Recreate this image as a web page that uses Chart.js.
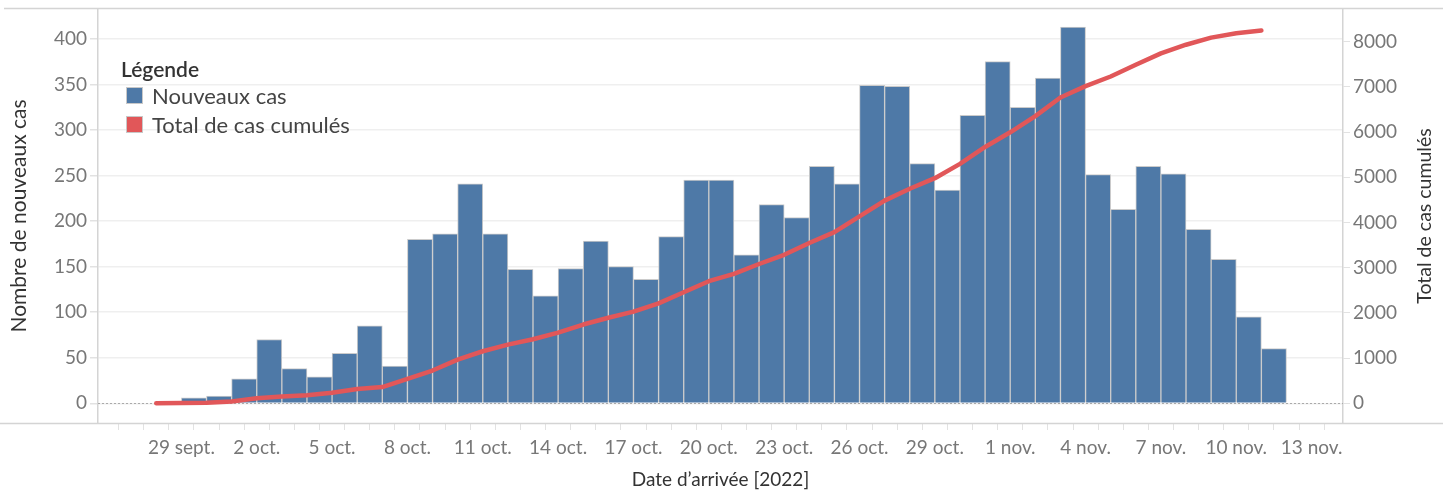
<!DOCTYPE html>
<html lang="fr">
<head>
<meta charset="utf-8">
<script src="https://cdn.jsdelivr.net/npm/chart.js@4.4.0/dist/chart.umd.min.js"></script>
<style>
  html, body { margin: 0; padding: 0; background: #fff; }
  #cadre { position: relative; width: 1443px; height: 491px; }
  #legende { position: absolute; left: 121px; top: 57px; font-family: Lato, "Open Sans", sans-serif; }
  #legende .titre { font-size: 21px; font-weight: 600; color: #333; line-height: 24px; }
  #legende .item { display: flex; align-items: center; height: 29px; font-size: 22px; color: #444; }
  #legende .carre { width: 15px; height: 15px; border: 1px solid #c8c8c8; margin: 0 9px 0 5px; }
</style>
</head>
<body>
<div id="cadre">
  <canvas id="graphique" width="1443" height="491"></canvas>
  <div id="legende"><div class="titre">Légende</div></div>
</div>
<script>
//Données (28 sept. -> 11 nov. 2022)
const dates = [
    "28/09", "29/09", "30/09",
    "01/10", "02/10", "03/10", "04/10", "05/10", "06/10", "07/10", "08/10", "09/10", "10/10",
    "11/10", "12/10", "13/10", "14/10", "15/10", "16/10", "17/10", "18/10", "19/10", "20/10",
    "21/10", "22/10", "23/10", "24/10", "25/10", "26/10", "27/10", "28/10", "29/10", "30/10", "31/10",
    "01/11", "02/11", "03/11", "04/11", "05/11", "06/11", "07/11", "08/11", "09/11", "10/11", "11/11"
];
const nouveauxCas = [
    null, 6, 8,
    27, 70, 38, 29, 55, 85, 41, 180, 186, 241,
    186, 147, 118, 148, 178, 150, 136, 183, 245, 245,
    163, 218, 204, 260, 241, 349, 348, 263, 234, 316, 375,
    325, 357, 413, 251, 213, 260, 252, 191, 158, 95, 60
];
const casCumules = [
    0, 6, 14,
    41, 111, 149, 178, 233, 318, 359, 539, 725, 966,
    1152, 1299, 1417, 1565, 1743, 1893, 2029, 2212, 2457, 2702,
    2865, 3083, 3287, 3547, 3788, 4137, 4485, 4748, 4982, 5298, 5673,
    5998, 6355, 6768, 7019, 7232, 7492, 7744, 7935, 8093, 8188, 8248
];
//Étiquettes de l'axe X, une tous les 3 jours à partir du 29 sept.
const etiquettesX = ["29 sept.", "2 oct.", "5 oct.", "8 oct.", "11 oct.", "14 oct.", "17 oct.", "20 oct.",
    "23 oct.", "26 oct.", "29 oct.", "1 nov.", "4 nov.", "7 nov.", "10 nov.", "13 nov."];
const ticksGauche = [0, 50, 100, 150, 200, 250, 300, 350, 400];
const ticksDroite = [0, 1000, 2000, 3000, 4000, 5000, 6000, 7000, 8000];

const BLEU = "#4e79a7";
const ROUGE = "#e15759";
const POLICE = 'Lato, "Open Sans", sans-serif';
const GRIS_TEXTE = "#777";
const GRIS_TITRE = "#333";
const GRIS_LIGNE = "#d4d4d4";

//chaque barre couvre sa journée, la courbe est posée au début du jour
const barres = dates.map((d, i) => ({ x: i + 0.5, y: nouveauxCas[i] }));
const courbe = dates.map((d, i) => ({ x: i, y: casCumules[i] }));

//pas de marge pour les étiquettes aux extrémités
const sansMarge = (scale) => {
    scale.paddingTop = 0;
    scale.paddingBottom = 0;
    scale.paddingLeft = 0;
    scale.paddingRight = 0;
};

//Lignes de cadre, ligne du zéro et titre de l'axe de droite
const decor = {
    id: "decor",
    beforeDatasetsDraw(chart) {
        const { ctx, chartArea, scales } = chart;
        const y0 = Math.round(scales.y.getPixelForValue(0)) + 0.5;
        ctx.save();
        ctx.strokeStyle = "#aaa";
        ctx.lineWidth = 1;
        ctx.setLineDash([2, 2]);
        ctx.beginPath();
        ctx.moveTo(chartArea.left, y0);
        ctx.lineTo(chartArea.right, y0);
        ctx.stroke();
        ctx.restore();
    },
    afterDraw(chart) {
        const { ctx, chartArea, scales, width } = chart;
        ctx.save();
        ctx.strokeStyle = GRIS_LIGNE;
        ctx.lineWidth = 1.5;
        ctx.beginPath();
        ctx.moveTo(4, chartArea.top - 0.5);
        ctx.lineTo(width, chartArea.top - 0.5);
        ctx.moveTo(0, chartArea.bottom + 0.5);
        ctx.lineTo(width, chartArea.bottom + 0.5);
        ctx.stroke();

        ctx.fillStyle = GRIS_TITRE;
        ctx.font = "19.5px " + POLICE;
        ctx.textAlign = "center";
        ctx.textBaseline = "middle";
        ctx.translate(scales.y2.right - 18, (chartArea.top + chartArea.bottom) / 2);
        ctx.rotate(-Math.PI / 2);
        ctx.fillText("Total de cas cumulés", 0, 0);
        ctx.restore();
    }
};

const graphique = new Chart(document.getElementById("graphique"), {
    data: {
        datasets: [
            {
                type: "bar",
                label: "Nouveaux cas",
                data: barres,
                yAxisID: "y",
                backgroundColor: BLEU,
                borderColor: "#cbcbcb",
                borderWidth: 1,
                barPercentage: 1,
                categoryPercentage: 1,
                order: 2
            },
            {
                type: "line",
                label: "Total de cas cumulés",
                data: courbe,
                yAxisID: "y2",
                borderColor: ROUGE,
                backgroundColor: ROUGE,
                borderWidth: 4.5,
                pointRadius: 0,
                tension: 0,
                borderCapStyle: "round",
                borderJoinStyle: "round",
                order: 1
            }
        ]
    },
    options: {
        responsive: false,
        animation: false,
        devicePixelRatio: 1,
        layout: { padding: { top: 9, left: 0, right: 0, bottom: 0 } },
        plugins: {
            legend: { display: false },
            tooltip: { enabled: false }
        },
        scales: {
            x: {
                type: "linear",
                offset: false,
                min: -2.32,
                max: 47.25,
                afterFit: (scale) => { scale.height = 68; sansMarge(scale); },
                afterBuildTicks: (scale) => {
                    const t = [];
                    for (let v = Math.ceil(scale.min); v <= scale.max; v++) t.push({ value: v });
                    scale.ticks = t;
                },
                grid: { drawOnChartArea: false, drawTicks: true, tickLength: 7, tickColor: "#e2e2e2" },
                border: { display: false },
                ticks: {
                    autoSkip: false,
                    maxRotation: 0,
                    padding: 6,
                    color: GRIS_TEXTE,
                    font: { family: POLICE, size: 19 },
                    callback: (v) => {
                        const k = (v - 1) / 3;
                        return Number.isInteger(k) && etiquettesX[k] ? etiquettesX[k] : "";
                    }
                },
                title: {
                    display: true,
                    text: "Date d’arrivée [2022]",
                    color: GRIS_TITRE,
                    font: { family: POLICE, size: 19 },
                    padding: { top: 0, bottom: 0 }
                }
            },
            y: {
                position: "left",
                min: -21.6,
                max: 432.8,
                afterFit: (scale) => { scale.width = 98; sansMarge(scale); },
                afterBuildTicks: (scale) => { scale.ticks = ticksGauche.map((v) => ({ value: v })); },
                grid: { color: "#efefef", lineWidth: 1.5, drawTicks: true, tickLength: 8, tickColor: "#e2e2e2" },
                border: { display: true, color: GRIS_LIGNE, width: 1.5 },
                ticks: { padding: 3, color: GRIS_TEXTE, font: { family: POLICE, size: 19 } },
                title: {
                    display: true,
                    text: "Nombre de nouveaux cas",
                    color: GRIS_TITRE,
                    font: { family: POLICE, size: 21 },
                    padding: { top: 7, bottom: 0 }
                }
            },
            y2: {
                position: "right",
                min: -436,
                max: 8726,
                afterFit: (scale) => { scale.width = 100; sansMarge(scale); },
                afterBuildTicks: (scale) => {
                    //graduations secondaires tous les 500
                    const t = [];
                    ticksDroite.forEach((v) => { t.push({ value: v }); t.push({ value: v + 500 }); });
                    scale.ticks = t;
                },
                grid: { drawOnChartArea: false, drawTicks: true, tickLength: 7, tickColor: "#e2e2e2" },
                border: { display: true, color: GRIS_LIGNE, width: 1.5 },
                ticks: {
                    padding: 3,
                    color: GRIS_TEXTE,
                    font: { family: POLICE, size: 19 },
                    callback: (v) => (ticksDroite.includes(v) ? String(v) : "")
                }
            }
        }
    },
    plugins: [decor]
});

//Légende construite à partir des séries
const legende = document.getElementById("legende");
graphique.data.datasets.forEach((ds) => {
    const item = document.createElement("div");
    item.className = "item";
    const carre = document.createElement("span");
    carre.className = "carre";
    carre.style.background = ds.backgroundColor;
    const texte = document.createElement("span");
    texte.textContent = ds.label;
    item.appendChild(carre);
    item.appendChild(texte);
    legende.appendChild(item);
});
</script>
</body>
</html>
